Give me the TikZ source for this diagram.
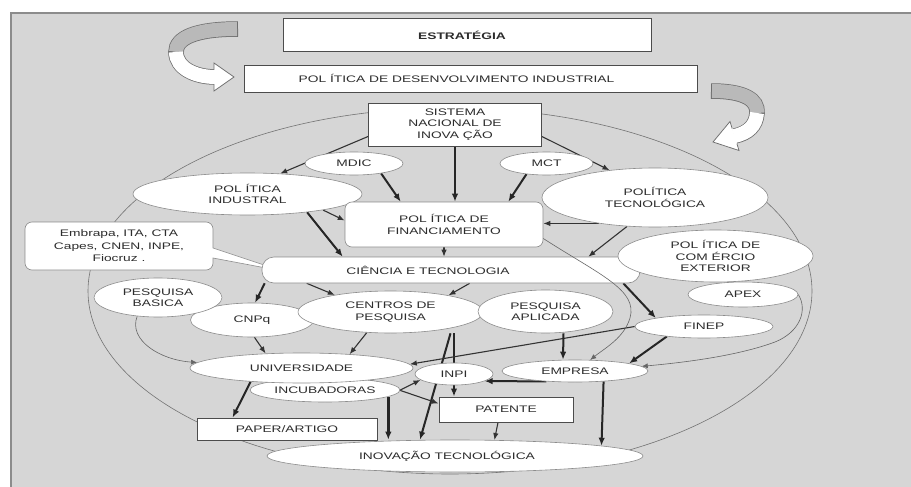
\documentclass[tikz,border=0pt]{standalone}
\usepackage{fontspec}
\newfontfamily\lab[FakeStretch=1.45]{Liberation Sans}
\usetikzlibrary{shapes.geometric,shapes.callouts,arrows.meta,calc}
\pgfdeclarelayer{bg}
\pgfdeclarelayer{mid}
\pgfsetlayers{bg,mid,main}
\definecolor{bgc}{RGB}{214,214,214}
\definecolor{frm}{RGB}{140,140,140}
\definecolor{txt}{RGB}{45,45,45}
\definecolor{ribg}{RGB}{185,185,185}
\definecolor{edg}{RGB}{110,110,110}
\begin{document}
\begin{tikzpicture}[x=1pt,y=-1pt,
  every node/.style={font=\lab\fontsize{9.5}{11.5}\selectfont, text=txt, inner sep=0pt},
  bx/.style={rectangle, draw=black!70, line width=0.9pt, fill=white},
  ell/.style={ellipse, draw=black!45, line width=0.6pt, fill=white},
  thk/.style={-{Latex[length=8pt,width=6.5pt]}, line width=2pt, draw=black!85},
  med/.style={-{Latex[length=7pt,width=5.5pt]}, line width=1.1pt, draw=black!80},
  thn/.style={-{Latex[length=6pt,width=5pt]}, line width=0.6pt, draw=black!60},
  rib/.style={line width=14pt},
  ribo/.style={line width=15.5pt, draw=edg}]
\useasboundingbox (0,0) rectangle (911,487);

% top curved arrows
\draw[ribo] (238,29) .. controls (195,29) and (176,38) .. (176,52) .. controls (176,68) and (195,77) .. (215,77);
\fill[white] (214,63) -- (234,77) -- (214,91) -- cycle;
\draw[edg, line width=0.75pt, line join=miter] (214,70) -- (214,63) -- (234,77) -- (214,91) -- (214,84);
\draw[rib, draw=ribg] (237,29) .. controls (195,29) and (176,38) .. (176,52);
\draw[rib, draw=white] (176,52) .. controls (176,68) and (195,77) .. (215,77);

\draw[ribo] (711,91) .. controls (745,91) and (758,100) .. (757,113) .. controls (756,126) and (748,133) .. (735,136);
\fill[white] (730,121.5) -- (713,142) -- (739,150.5) -- cycle;
\draw[edg, line width=0.75pt, line join=miter] (732.1,128.4) -- (730,121.5) -- (713,142) -- (739,150.5) -- (736.9,143.6);
\draw[rib, draw=ribg] (712,91) .. controls (745,91) and (758,100) .. (757,113);
\draw[rib, draw=white] (757,113) .. controls (756,126) and (748,133) .. (734,136.2);

% nodes
\node[bx, minimum width=368, minimum height=33, font=\lab\bfseries\fontsize{9.5}{11.5}\selectfont] (estr) at (467,35) {\hspace*{-10pt}ESTRATÉGIA};
\node[bx, minimum width=453, minimum height=27] (pdi) at (470.5,78.5) {\hspace*{-28pt}POL ÍTICA DE DESENVOLVIMENTO INDUSTRIAL};
\node[bx, minimum width=173, minimum height=43, align=center] (sni) at (455,124.5) {SISTEMA\\NACIONAL DE\\INOVA ÇÃO};
\node[ell, minimum width=98, minimum height=23] (mdic) at (354,163.5) {MDIC};
\node[ell, minimum width=93, minimum height=23] (mct) at (546.5,163.5) {MCT};
\node[ell, minimum width=229, minimum height=42, align=center] (pi) at (247.5,194) {POL ÍTICA\\INDUSTRAL};
\node[ell, minimum width=226, minimum height=59, align=center] (pt) at (655,197.5) {POLÍTICA\\TECNOLÓGICA};
\node[bx, rounded corners=7pt, draw=black!45, line width=0.6pt, minimum width=198, minimum height=45, align=center] (pf) at (444,224.5) {POL ÍTICA DE\\FINANCIAMENTO};
\node[rectangle callout, callout absolute pointer={(282,271)}, callout pointer width=10pt, rounded corners=7pt, draw=black!45, line width=0.6pt, fill=white, minimum width=188, minimum height=48, align=center, font=\lab\fontsize{9.5}{12.5}\selectfont] (call) at (119,246) {Embrapa, ITA, CTA\\Capes, CNEN, INPE,\\Fiocruz .};
\node[bx, rounded corners=12pt, draw=black!45, line width=0.6pt, minimum width=378, minimum height=26] (ct) at (451,270) {\hspace*{-46pt}CIÊNCIA E TECNOLOGIA};
\node[ell, minimum width=195, minimum height=52, align=center] (pce) at (715.5,256) {POL ÍTICA DE\\COM ÉRCIO\\EXTERIOR};
\node[ell, minimum width=110, minimum height=25] (apex) at (743,294.5) {APEX};
\node[ell, minimum width=138, minimum height=23] (finep) at (704,326.5) {FINEP};
\node[ell, minimum width=123, minimum height=34] (cnpq) at (252,320) {CNPq};
\node[ell, minimum width=128, minimum height=39, align=center] (pb) at (158,297.5) {PESQUISA\\BASICA};
\node[ell, minimum width=185, minimum height=42, align=center] (cp) at (390.5,312) {CENTROS DE\\PESQUISA};
\node[ell, minimum width=135, minimum height=43, align=center] (pa) at (545.5,311.5) {PESQUISA\\APLICADA};
\node[ell, minimum width=150, minimum height=24] (incub) at (325,390) {INCUBADORAS};
\node[ell, minimum width=223, minimum height=30] (univ) at (301.5,368) {UNIVERSIDADE};
\node[ell, minimum width=78, minimum height=22] (inpi) at (454,374) {INPI};
\node[ell, minimum width=146, minimum height=22] (emp) at (575,371) {EMPRESA};
\node[bx, minimum width=134, minimum height=25] (pat) at (506,409.5) {PATENTE};
\node[bx, minimum width=180, minimum height=22] (paper) at (287,429) {PAPER/ARTIGO};
\node[ell, minimum width=376, minimum height=32] (inov) at (455,456) {\hspace*{-16pt}INOVAÇÃO TECNOLÓGICA};

\draw[thn] ($(pf.east)+(0,14)$) .. controls (600,275) and (638,290) .. (630,318) .. controls (624,338) and (605,348) .. (emp.36);

\begin{pgfonlayer}{bg}
\fill[white] (0,0) rectangle (911,487);
\fill[bgc] (10,12) rectangle (911,487);
\draw[frm, line width=2pt] (11,487) -- (11,13) -- (911,13);
\draw[black!55, line width=0.6pt] (450,291) ellipse [x radius=362, y radius=183];
\end{pgfonlayer}

\begin{pgfonlayer}{mid}
\draw[med] ($(sni.west)+(0,12)$) -- (pi.32);
\draw[med] ($(sni.east)+(0,12)$) -- (pt.149);
\draw[thk] (sni.south) -- (sni.south |- pf.north);
\draw[thk] (mdic.-20) -- ($(pf.north west)+(56,0)$);
\draw[thk] (mct.208) -- ($(pf.north east)+(-35,0)$);
\draw[med] (pi.-12) -- ($(pf.west)+(0,-4)$);
\draw[thk] (pi.-17) -- ($(ct.north west)+(81,0)$);
\draw[med] (pt.205) -- (pt.205 -| pf.east);
\draw[med] (pt.226) -- ($(ct.north east)+(-52,0)$);
\draw[med] (pf.south) -- (pf.south |- ct.north);
\draw[thk] ($(ct.south west)+(3,0)$) -- (cnpq.80);
\draw[med] ($(ct.south west)+(45,0)$) -- (cp.163);
\draw[med] ($(ct.south west)+(208,0)$) -- (cp.16);
\draw[thk] ($(ct.south east)+(-17,0)$) -- (finep.170);
\draw[med] (cnpq.-82) -- (univ.158);
\draw[med] (cp.221) -- (univ.16);
\draw[thk, -] (inpi.north |- cp.south) -- (inpi.north);
\draw[thk] ($(cp.south)+(60,0)$) -- ($(inov.north)+(-35,0)$);
\draw[med] (finep.west) -- (univ.2);
\draw[thk] ($(pa.south)+(18,0)$) -- ($(emp.north)+(-12,0)$);
\draw[thk] (finep.195) -- (emp.8);
\draw[thk] (emp.200) -- (inpi.-13);
\draw[thk] (emp.-20) -- (inov.4);
\draw[thk] (inpi.south) -- (inpi.south |- pat.north);
\draw[med] ($(pat.south)+(-8,0)$) -- (inov.22);
\draw[thk] (univ.195) -- ($(paper.north west)+(36,0)$);
\draw[thk, line width=2.6pt] (incub.-6) -- (incub.-6 |- inov.north);
\draw[med] (incub.east) -- (inpi.190);
\draw[med] (univ.-10) -- ($(pat.west)+(0,-6)$);
\draw[thn] (pb.222) .. controls (128,340) and (160,360) .. (univ.177);
\draw[thn] (apex.east) .. controls (808,310) and (800,332) .. (775,342) .. controls (740,355) and (690,362) .. (emp.4);
\end{pgfonlayer}
\end{tikzpicture}
\end{document}
